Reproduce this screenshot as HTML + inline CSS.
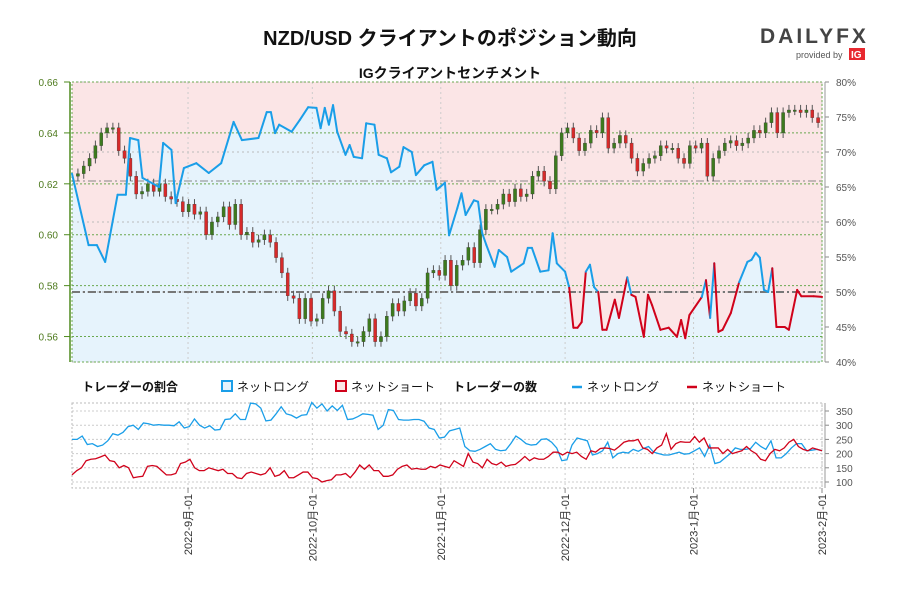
<!DOCTYPE html>
<html><head><meta charset="utf-8"><style>
body{margin:0;background:#fff;width:900px;height:600px;overflow:hidden;font-family:"Liberation Sans","Noto Sans CJK JP",sans-serif}
</style></head><body>
<svg id="c" width="900" height="600" xmlns="http://www.w3.org/2000/svg" font-family="Liberation Sans, Noto Sans CJK JP, sans-serif">
<text x="450" y="45" text-anchor="middle" font-size="20" font-weight="bold" fill="#111">NZD/USD クライアントのポジション動向</text>
<text x="450" y="78" text-anchor="middle" font-size="14" font-weight="bold" fill="#111">IGクライアントセンチメント</text>
<g>
<text x="760" y="43" font-size="21" font-weight="bold" fill="#444" letter-spacing="3">DAILYFX</text>
<text x="796" y="58" font-size="9" fill="#555">provided by</text>
<rect x="849" y="48" width="16" height="12" fill="#e8282f"/>
<text x="851" y="58" font-size="10" font-weight="bold" fill="#fff">IG</text>
</g>
<g id="main"></g>
<g id="legend">
<text x="82" y="391" font-size="12" font-weight="bold" fill="#111">トレーダーの割合</text>
<rect x="222" y="381" width="10" height="10" fill="#e6f3fc" stroke="#1a9ee8" stroke-width="2"/>
<text x="237" y="391" font-size="12" fill="#111">ネットロング</text>
<rect x="336" y="381" width="10" height="10" fill="#fbe5e6" stroke="#d0021b" stroke-width="2"/>
<text x="351" y="391" font-size="12" fill="#111">ネットショート</text>
<text x="453" y="391" font-size="12" font-weight="bold" fill="#111">トレーダーの数</text>
<line x1="572" y1="387" x2="582" y2="387" stroke="#1a9ee8" stroke-width="2.5"/>
<text x="587" y="391" font-size="12" fill="#111">ネットロング</text>
<line x1="687" y1="387" x2="697" y2="387" stroke="#d0021b" stroke-width="2.5"/>
<text x="702" y="391" font-size="12" fill="#111">ネットショート</text>
</g>
<g id="lower"></g>
</svg>
<script>
const closes=[0.624,0.627,0.630,0.635,0.640,0.642,0.642,0.633,0.630,0.623,0.616,0.617,0.620,0.617,0.620,0.615,0.614,0.613,0.609,
0.612,0.608,0.609,0.600,0.605,0.607,0.611,0.604,0.612,0.600,0.601,0.597,0.598,0.600,0.597,0.591,0.585,0.576,0.575,0.567,0.575,0.566,
0.567,0.575,0.578,0.570,0.562,0.561,0.558,0.558,0.562,0.567,0.558,0.560,0.568,0.573,0.570,0.574,0.577,0.572,0.575,0.585,0.586,
0.584,0.590,0.580,0.588,0.590,0.595,0.589,0.602,0.610,0.610,0.612,0.616,0.613,0.618,0.615,0.616,0.623,0.625,0.621,0.618,0.631,0.640,
0.642,0.638,0.633,0.636,0.641,0.640,0.646,0.634,0.636,0.639,0.636,0.630,0.625,0.628,0.630,0.631,0.635,0.634,0.634,0.630,0.628,0.635,
0.634,0.636,0.623,0.630,0.633,0.636,0.637,0.635,0.636,0.638,0.641,0.640,0.644,0.648,0.640,0.648,0.649,0.649,0.648,0.649,0.646,0.644];
const firstOpen=0.623;
const sentDays=[0,4,6,8,11,13,14,16,17,21,22,24,25,27,30,33,36,39,41,45,47,48,49,50,53,55,57,59,60,61,62,63,64,66,67,68,70,71,73,74,76,77,79,80,82,83,85,87,88,90,91,93,94,95,97,98,99,100,102,103,105,106,109,110,111,113,115,116,117,119,120,121,122,123,124,125,126,127,128,129,131,132,134,135,136,138,139,140,142,144,146,147,148,149,152,153,154,155,156,157,159,161,163,164,165,166,167,168,169,170,172,173,175,176,179,181];
const sentPct=[66.9,56.7,56.7,54.3,63.9,63.9,72,71.7,66.3,65,71.3,70.3,62.7,67.7,68.4,67,68.4,74.3,71.7,72,75.7,75.7,72.7,73.9,72.9,74.6,76.4,76.3,73.4,76.3,73.9,76.7,72.9,69.6,71,69.3,69.1,74.1,73.9,69.6,69.1,67.1,67.9,70.7,70,66.7,68.1,68.6,64.6,65.6,58.1,62,64.1,61,63.1,62.9,58.4,56.7,53.6,56,55,52.9,54.1,56.3,56.3,52.9,53.1,58.4,54.1,52.9,50.6,44.9,44.9,45.7,52.9,53.9,50.7,50,44.6,44.6,48.9,46.3,52.1,49.6,49.3,43.6,49.6,48.1,44.6,44.9,43.6,46,43.4,46.7,49.3,51.7,46.3,54.1,44.3,44.6,47,51.4,54.3,54.6,55.6,54.9,50.3,50,53.4,45,45,44.6,50.3,49.4,49.4,49.3];
const longCount=[250,250,262,232,235,225,230,245,270,265,275,295,300,285,308,305,300,302,300,300,298,312,290,295,322,300,290,298,283,285,320,322,340,320,320,378,375,360,315,318,340,365,340,335,325,335,337,380,360,375,350,368,352,370,320,322,330,340,338,335,285,300,355,352,320,318,318,320,320,314,290,285,255,258,280,285,290,225,210,208,215,225,235,215,210,212,235,262,250,235,230,232,250,252,240,220,175,178,230,255,250,245,195,200,210,240,185,200,205,202,215,208,218,225,205,200,195,195,200,205,198,200,210,220,190,230,165,170,185,200,220,215,215,218,240,225,215,245,185,185,200,220,235,235,210,212,215,210];
const shortCount=[125,140,150,175,180,182,188,195,175,172,150,158,150,115,118,120,155,158,155,140,125,125,130,165,170,180,150,140,140,150,145,140,145,130,130,115,112,130,135,130,125,130,150,120,125,140,115,115,125,135,135,115,112,100,105,108,125,125,130,115,135,160,145,160,140,140,120,120,125,145,155,160,145,148,145,145,155,150,160,155,150,175,165,155,200,170,165,150,180,165,160,170,155,160,162,175,190,175,185,180,180,190,205,205,195,205,200,205,190,180,210,205,218,220,218,212,225,240,245,245,250,220,215,200,220,230,270,215,235,242,240,240,260,240,255,220,220,220,200,215,200,205,210,225,210,200,180,175,200,215,210,220,240,250,225,215,210,220,215,210];
const priceTicks=[0.56,0.58,0.60,0.62,0.64,0.66];
const pctTicks=[40,45,50,55,60,65,70,75,80];
const countTicks=[100,150,200,250,300,350];
const dateLabels=["2022-9月-01","2022-10月-01","2022-11月-01","2022-12月-01","2023-1月-01","2023-2月-01"];
const dateDays=[28,58,89,119,150,181];

const NS="http://www.w3.org/2000/svg";
const X0=72,X1=822,T=82,B=362,totalDays=181;
const xDay=d=>X0+(X1-X0)*d/totalDays;
const yP=v=>T+(0.66-v)/0.11*(B-T);
const yS=p=>T+(80-p)/40*(B-T);
const LT=403,LB=488;
const yC=c=>411+(350-c)*(71/250);
function mk(tag,attrs,parent){const e=document.createElementNS(NS,tag);for(const k in attrs)e.setAttribute(k,attrs[k]);parent.appendChild(e);return e;}
const main=document.getElementById('main'),lower=document.getElementById('lower');

const bg=mk('rect',{x:X0,y:T,width:X1-X0,height:B-T,fill:'#fbe5e6'},main);


let pts=sentDays.map((d,i)=>xDay(d)+','+yS(sentPct[i]));
const area=mk('polygon',{points:xDay(sentDays[0])+','+B+' '+pts.join(' ')+' '+xDay(sentDays[sentDays.length-1])+','+B,fill:'#e6f3fc'},main);


pctTicks.forEach(p=>{if(p%10===0)mk('line',{x1:X0,x2:X1,y1:yS(p),y2:yS(p),stroke:'#bbb','stroke-dasharray':'2,3'},main);
 const t=mk('text',{x:836,y:yS(p)+4,'font-size':10,fill:'#555'},main);t.textContent=p+'%';
 
 
 mk('line',{x1:X1+3,x2:X1+7,y1:yS(p),y2:yS(p),stroke:'#888'},main);});
dateDays.forEach(d=>mk('line',{x1:xDay(d),x2:xDay(d),y1:T,y2:B,stroke:'#ccc','stroke-dasharray':'2,3'},main));
priceTicks.forEach(v=>{mk('line',{x1:X0,x2:X1,y1:yP(v),y2:yP(v),stroke:'#6aa84f','stroke-dasharray':'2,2'},main);
 const t=mk('text',{x:58,y:yP(v)+4,'font-size':10,fill:'#4e7a1e','text-anchor':'end'},main);t.textContent=v.toFixed(2);
 
 
 mk('line',{x1:64,x2:70,y1:yP(v),y2:yP(v),stroke:'#4e8a1e'},main);});
mk('line',{x1:70,x2:70,y1:T,y2:B,stroke:'#4e8a1e','stroke-width':1.5},main);
mk('line',{x1:X1+3,x2:X1+3,y1:T,y2:B,stroke:'#999'},main);
mk('rect',{x:X0,y:T,width:X1-X0,height:B-T,fill:'none',stroke:'#6aa84f','stroke-dasharray':'2,2'},main);
mk('line',{x1:X0,x2:X1,y1:181,y2:181,stroke:'#888','stroke-dasharray':'8,3,2,3'},main);
mk('line',{x1:X0,x2:X1,y1:yS(50),y2:yS(50),stroke:'#777','stroke-width':2,'stroke-dasharray':'8,3,2,3'},main);
const n=closes.length,cw=(X1-X0-4)/n;
closes.forEach((c,i)=>{const o=i?closes[i-1]:firstOpen;const x=X0+3+cw*(i+0.5);
 const hi=Math.max(o,c)+0.002,lo=Math.min(o,c)-0.002;
 mk('line',{x1:x,x2:x,y1:yP(hi),y2:yP(lo),stroke:'#555'},main);
 const r=mk('rect',{x:x-1.6,y:Math.min(yP(o),yP(c)),width:3.2,height:Math.max(1.5,Math.abs(yP(o)-yP(c))),fill:c>=o?'#3d7a1e':'#d62a2a',stroke:'#333','stroke-width':0.3},main);
 
 });
for(let i=1;i<sentDays.length;i++){const col=(sentPct[i-1]+sentPct[i])/2>=50?'#1a9ee8':'#d0021b';
 const l=mk('line',{x1:xDay(sentDays[i-1]),y1:yS(sentPct[i-1]),x2:xDay(sentDays[i]),y2:yS(sentPct[i]),stroke:col,'stroke-width':2,'stroke-linecap':'round'},main);
 
 }
countTicks.forEach(c=>{mk('line',{x1:X0,x2:X1,y1:yC(c),y2:yC(c),stroke:'#ccc','stroke-dasharray':'2,2'},lower);
 const t=mk('text',{x:836,y:yC(c)+4,'font-size':10,fill:'#555'},lower);t.textContent=c;
 
 
 mk('line',{x1:X1+3,x2:X1+7,y1:yC(c),y2:yC(c),stroke:'#888'},lower);});
mk('rect',{x:X0,y:LT,width:X1-X0,height:LB-LT,fill:'none',stroke:'#bbb','stroke-dasharray':'2,2'},lower);
mk('line',{x1:X1+3,x2:X1+3,y1:LT,y2:LB,stroke:'#999'},lower);
dateDays.forEach((d,i)=>{mk('line',{x1:xDay(d),x2:xDay(d),y1:LT,y2:LB,stroke:'#ccc','stroke-dasharray':'2,3'},lower);
 mk('line',{x1:xDay(d),x2:xDay(d),y1:LB,y2:LB+5,stroke:'#888'},lower);
 const t=mk('text',{x:0,y:0,'font-size':11,fill:'#333','text-anchor':'end',transform:'translate('+(xDay(d)+4)+','+(LB+6)+') rotate(-90)'},lower);t.textContent=dateLabels[i];
 
 });
[[longCount,'#1a9ee8','long-count-line'],[shortCount,'#d0021b','short-count-line']].forEach(([arr,col,nm])=>{
 const p=arr.map((c,i)=>(X0+(X1-X0)*i/(arr.length-1))+','+yC(c)).join(' ');
 const pl=mk('polyline',{points:p,fill:'none',stroke:col,'stroke-width':1.3},lower);
 
 });
</script>
</body></html>
